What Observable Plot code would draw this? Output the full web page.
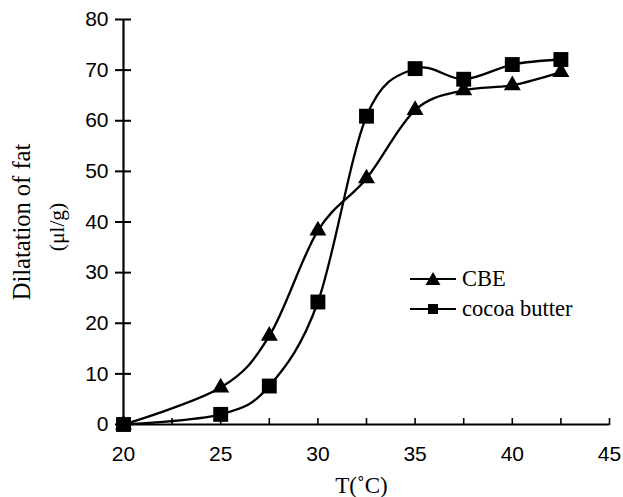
<!DOCTYPE html>
<html><head><meta charset="utf-8">
<script src="https://cdn.jsdelivr.net/npm/d3@7"></script>
<script src="https://cdn.jsdelivr.net/npm/@observablehq/plot@0.6"></script>
<style>
body{margin:0;background:#fff}
#wrap{position:relative;width:623px;height:497px}
#legend{position:absolute;left:410px;top:264px;font-family:"Liberation Serif","Times New Roman",serif;font-size:22.5px;color:#000}
.row{display:flex;align-items:center;height:30px}
.row svg{margin-right:6px}
</style></head>
<body><div id="wrap"><div id="chart"></div><div id="legend"></div></div>
<script>
const temps = [20, 25, 27.5, 30, 32.5, 35, 37.5, 40, 42.5];
const cbe = [0, 7.3, 17.5, 38.3, 48.6, 62.1, 66.0, 67.0, 69.6];
const cocoa = [0, 2.0, 7.6, 24.2, 60.9, 70.3, 68.2, 71.1, 72.1];
const seriesNames = ["CBE", "cocoa butter"];
const xTickLabels = [20, 25, 30, 35, 40, 45];
const xTicksAll = [20, 22.5, 25, 27.5, 30, 32.5, 35, 37.5, 40, 42.5, 45];
const yTickLabels = [0, 10, 20, 30, 40, 50, 60, 70, 80];

const cbeData = temps.map((t, i) => ({t, v: cbe[i]}));
const cocoaData = temps.map((t, i) => ({t, v: cocoa[i]}));
const serif = "'Liberation Serif', 'Times New Roman', serif";

const chart = Plot.plot({
  width: 623, height: 497,
  marginLeft: 123, marginRight: 14, marginTop: 19, marginBottom: 73,
  style: {fontFamily: "'Liberation Sans', Arial, sans-serif", fontSize: "21px", color: "#000", background: "#fff", overflow: "visible"},
  x: {domain: [20, 45]},
  y: {domain: [0, 80]},
  marks: [
    Plot.axisY({ticks: yTickLabels, tickSize: 16, dx: 8, tickFormat: () => "", strokeWidth: 2, label: null}),
    Plot.axisY({ticks: yTickLabels, tickSize: 0, tickPadding: 15, label: null, fontSize: 21}),
    Plot.axisX({ticks: xTicksAll, tickSize: 7, dy: -6, tickFormat: () => "", strokeWidth: 1.6, label: null}),
    Plot.axisX({ticks: xTickLabels, tickSize: 0, tickPadding: 22, label: null, fontSize: 21}),
    Plot.ruleX([20], {strokeWidth: 2.2}),
    Plot.ruleY([0], {strokeWidth: 2.2}),
    Plot.line(cbeData, {x: "t", y: "v", curve: "cardinal", tension: 0, strokeWidth: 2.3, stroke: "#000"}),
    Plot.line(cocoaData, {x: "t", y: "v", curve: "cardinal", tension: 0, strokeWidth: 2.3, stroke: "#000"}),
    Plot.dot(cbeData, {x: "t", y: "v", symbol: "triangle", r: 6.3, fill: "#000", stroke: "none"}),
    Plot.dot(cocoaData, {x: "t", y: "v", symbol: "square", r: 8.4, fill: "#000", stroke: "none"}),
    Plot.text(["Dilatation of fat"], {frameAnchor: "left", rotate: -90, dx: -101, fontFamily: serif, fontSize: 24.5, textAnchor: "middle", lineAnchor: "middle"}),
    Plot.text(["(μl/g)"], {frameAnchor: "left", rotate: -90, dx: -66, dy: 5, fontFamily: serif, fontSize: 21.5, textAnchor: "middle", lineAnchor: "middle"}),
    Plot.text(["T(˚C)"], {frameAnchor: "bottom", dy: 61, dx: -5, fontFamily: serif, fontSize: 23, lineAnchor: "middle"})
  ]
});
document.getElementById("chart").appendChild(chart);

const icons = {
  "CBE": '<polygon points="15.5,16 23,3 30.5,16" fill="#000"/>',
  "cocoa butter": '<rect x="18" y="5" width="10" height="10" fill="#000"/>'
};
const legend = document.getElementById("legend");
seriesNames.forEach(name => {
  const row = document.createElement("div");
  row.className = "row";
  row.innerHTML = '<svg width="46" height="20"><line x1="0" y1="10" x2="46" y2="10" stroke="#000" stroke-width="2"/>' + icons[name] + '</svg><span>' + name + '</span>';
  legend.appendChild(row);
});
</script>
</body></html>
